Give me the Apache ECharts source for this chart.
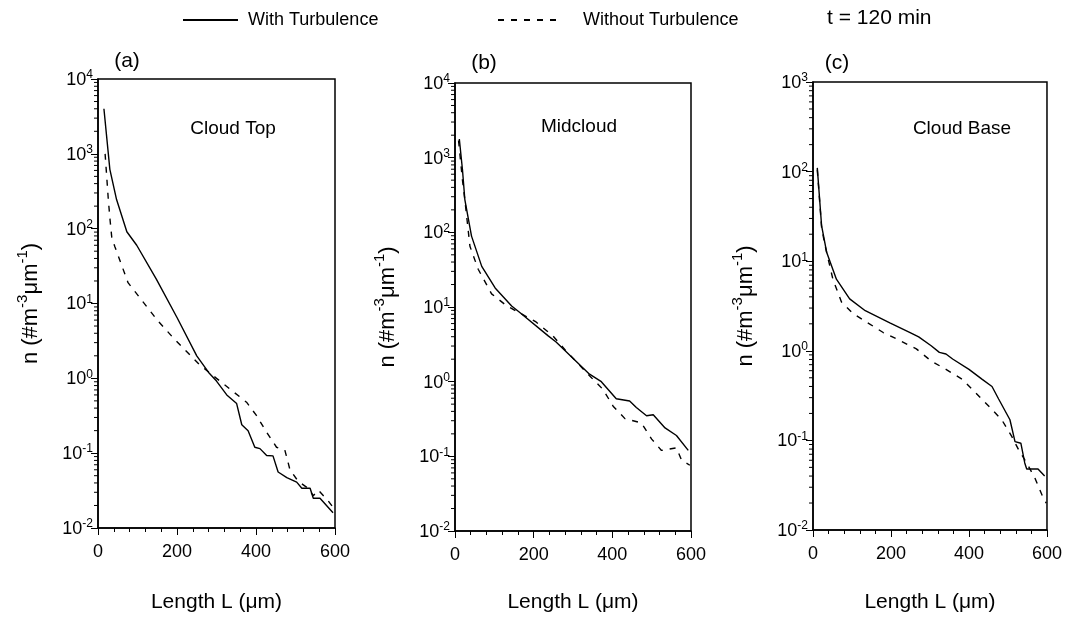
<!DOCTYPE html>
<html>
<head>
<meta charset="utf-8">
<script src="https://cdn.jsdelivr.net/npm/echarts@6/dist/echarts.min.js"></script>
<style>
html,body{margin:0;padding:0;background:#fff;}
#chart{width:1065px;height:622px;}
</style>
</head>
<body>
<div id="chart"></div>
<script>
// ---- data ----
const xTickValues = [0, 200, 400, 600];
const panelTags = ['(a)', '(b)', '(c)'];
const panelNames = ['Cloud Top', 'Midcloud', 'Cloud Base'];
const yMinValues = [0.01, 0.01, 0.01];
const yMaxValues = [10000, 10000, 1000];
const seriesNames = ['With Turbulence', 'Without Turbulence'];
const timeLabel = 't = 120 min';

// (a) Cloud Top
const aWithL = [15, 30, 47, 73, 98, 148, 200, 250, 280, 300, 326, 351, 364, 380, 397, 410, 427, 443, 456, 478, 503, 516, 537, 545, 562, 595];
const aWithN = [4000, 620, 245, 91, 60, 21, 6.5, 2.0, 1.2, 0.92, 0.6, 0.46, 0.24, 0.2, 0.12, 0.115, 0.093, 0.092, 0.056, 0.047, 0.041, 0.034, 0.034, 0.025, 0.025, 0.016];
const aWithoutL = [18, 22, 26, 30, 35, 43, 76, 124, 150, 190, 258, 300, 334, 376, 401, 427, 452, 473, 486, 507, 532, 545, 558, 583, 598];
const aWithoutN = [1000, 500, 250, 140, 75, 57, 19, 9, 6, 3.5, 1.5, 1.0, 0.72, 0.48, 0.32, 0.19, 0.12, 0.11, 0.06, 0.042, 0.034, 0.027, 0.032, 0.023, 0.018];

// (b) Midcloud
const bWithL = [11, 19, 25, 42, 68, 102, 144, 164, 237, 257, 342, 372, 410, 444, 461, 487, 504, 534, 563, 593];
const bWithN = [1780, 690, 275, 89, 35, 18, 10.3, 8.5, 4.1, 3.4, 1.26, 1.0, 0.59, 0.55, 0.45, 0.35, 0.36, 0.24, 0.19, 0.12];
const bWithoutL = [9, 19, 27, 38, 59, 93, 130, 206, 249, 279, 342, 376, 402, 432, 474, 500, 525, 563, 576, 597];
const bWithoutN = [1700, 500, 220, 65, 32, 15, 10.5, 6.3, 4.1, 2.7, 1.2, 0.79, 0.47, 0.32, 0.28, 0.17, 0.12, 0.13, 0.089, 0.076];

// (c) Cloud Base
const cWithL = [11, 22, 35, 60, 94, 134, 197, 249, 271, 303, 324, 341, 358, 400, 434, 459, 476, 505, 518, 533, 543, 548, 577, 594];
const cWithN = [110, 25, 12.6, 6.3, 3.8, 2.8, 2.05, 1.6, 1.43, 1.14, 0.96, 0.92, 0.81, 0.62, 0.48, 0.4, 0.29, 0.17, 0.097, 0.093, 0.056, 0.048, 0.048, 0.04];
const cWithoutL = [11, 22, 30, 51, 73, 103, 180, 223, 265, 303, 341, 383, 417, 451, 484, 510, 527, 548, 569, 590, 598];
const cWithoutN = [105, 24, 15.5, 6.3, 3.5, 2.6, 1.6, 1.3, 1.05, 0.77, 0.62, 0.48, 0.34, 0.24, 0.17, 0.11, 0.079, 0.056, 0.038, 0.023, 0.02];

const minorMantissas = [2, 3, 4, 5, 6, 7, 8, 9];

// ---- build ----
const FONT = '"Liberation Sans", Arial, Helvetica, sans-serif';
const zip = (xs, ys) => xs.map((x, i) => [x, ys[i]]);
const panelData = [
  [zip(aWithL, aWithN), zip(aWithoutL, aWithoutN)],
  [zip(bWithL, bWithN), zip(bWithoutL, bWithoutN)],
  [zip(cWithL, cWithN), zip(cWithoutL, cWithoutN)]
];
const grids = [
  {left: 98, top: 79, width: 237, height: 449},
  {left: 455, top: 83, width: 236, height: 448},
  {left: 813, top: 82, width: 237, height: 448}
];
const xNameGaps = [64, 61, 62];

const legendCommon = {
  top: 6, itemHeight: 14, selectedMode: false,
  itemStyle: {opacity: 0, borderWidth: 0}
};

const option = {
  animation: false,
  backgroundColor: '#fff',
  textStyle: {fontFamily: FONT, color: '#000'},
  legend: [
    Object.assign({}, legendCommon, {data: [seriesNames[0]], left: 177, itemWidth: 55,
      textStyle: {fontFamily: FONT, fontSize: 18, color: '#000', padding: [0, 0, 0, 5]}}),
    Object.assign({}, legendCommon, {data: [seriesNames[1]], left: 492, itemWidth: 60,
      textStyle: {fontFamily: FONT, fontSize: 18, color: '#000', padding: [0, 0, 0, 20]}})
  ],
  grid: grids.map(g => Object.assign({show: true, borderColor: '#000', borderWidth: 1.5, backgroundColor: 'transparent', containLabel: false}, g)),
  xAxis: grids.map((g, i) => ({
    type: 'value', gridIndex: i, min: xTickValues[0], max: xTickValues[xTickValues.length - 1], interval: 200,
    name: 'Length L (\u03bcm)', nameLocation: 'middle', nameGap: xNameGaps[i],
    nameTextStyle: {fontFamily: FONT, fontSize: 21, color: '#000'},
    axisLine: {show: true, lineStyle: {color: '#000', width: 1.5}},
    axisTick: {show: true, length: 7, lineStyle: {color: '#000', width: 1}},
    minorTick: {show: true, splitNumber: 5, length: 4, lineStyle: {color: '#000', width: 1}},
    axisLabel: {fontFamily: FONT, fontSize: 18, color: '#000', margin: 15},
    splitLine: {show: false}
  })),
  yAxis: grids.map((g, i) => ({
    type: 'log', logBase: 10, gridIndex: i, min: yMinValues[i], max: yMaxValues[i], interval: 1,
    name: '{t|n (#m}{s|-3}{t|\u03bcm}{s|-1}{t|)}', nameLocation: 'middle', nameGap: 56, nameRotate: 90,
    nameTextStyle: {
      fontFamily: FONT, color: '#000',
      rich: {
        t: {fontFamily: FONT, fontSize: 22, color: '#000', lineHeight: 27, verticalAlign: 'bottom'},
        s: {fontFamily: FONT, fontSize: 15, color: '#000', lineHeight: 27, verticalAlign: 'top'}
      }
    },
    axisLine: {show: true, lineStyle: {color: '#000', width: 1.5}},
    axisTick: {show: true, length: 7, lineStyle: {color: '#000', width: 1}},
    minorTick: {show: false},
    splitLine: {show: false},
    axisLabel: {
      margin: 5,
      formatter: v => '{b|10}{s|' + Math.round(Math.log10(v)) + '}',
      rich: {
        b: {fontFamily: FONT, fontSize: 18, color: '#000', lineHeight: 20, verticalAlign: 'bottom'},
        s: {fontFamily: FONT, fontSize: 12, color: '#000', lineHeight: 20, verticalAlign: 'top'}
      }
    }
  })),
  series: [],
  graphic: []
};

panelData.forEach((pair, i) => {
  option.series.push({
    name: seriesNames[0], type: 'line', xAxisIndex: i, yAxisIndex: i, data: pair[0],
    symbol: 'none', showSymbol: false, smooth: false,
    lineStyle: {color: '#000', width: 1.4, type: 'solid'}, itemStyle: {color: '#000'}
  });
  option.series.push({
    name: seriesNames[1], type: 'line', xAxisIndex: i, yAxisIndex: i, data: pair[1],
    symbol: 'none', showSymbol: false, smooth: false,
    lineStyle: {color: '#000', width: 1.4, type: [6, 7]}, itemStyle: {color: '#000'}
  });
  // minor log ticks on the y axis
  const minorVals = [];
  const e0 = Math.round(Math.log10(yMinValues[i])), e1 = Math.round(Math.log10(yMaxValues[i]));
  for (let e = e0; e < e1; e++) minorMantissas.forEach(m => minorVals.push([0, m * Math.pow(10, e)]));
  option.series.push({
    type: 'custom', xAxisIndex: i, yAxisIndex: i, clip: false, silent: true, data: minorVals,
    encode: {x: 0, y: 1},
    renderItem: (params, api) => {
      const p = api.coord([api.value(0), api.value(1)]);
      return {type: 'line', shape: {x1: p[0] - 4, y1: p[1], x2: p[0], y2: p[1]}, style: {stroke: '#000', lineWidth: 1}};
    }
  });
});

const tagPos = [[127, 61], [484, 63], [837, 63]];
const namePos = [[233, 129], [579, 127], [962, 129]];
panelTags.forEach((t, i) => {
  option.graphic.push({type: 'text', x: tagPos[i][0], y: tagPos[i][1],
    style: {text: t, font: '21px ' + FONT, fill: '#000', align: 'center', verticalAlign: 'middle'}});
  option.graphic.push({type: 'text', x: namePos[i][0], y: namePos[i][1],
    style: {text: panelNames[i], font: '19px ' + FONT, fill: '#000', align: 'center', verticalAlign: 'middle'}});
});
option.graphic.push({type: 'text', x: 827, y: 18,
  style: {text: timeLabel, font: '21px ' + FONT, fill: '#000', align: 'left', verticalAlign: 'middle'}});

const chart = echarts.init(document.getElementById('chart'), null, {renderer: 'canvas'});
chart.setOption(option);
</script>
</body>
</html>
